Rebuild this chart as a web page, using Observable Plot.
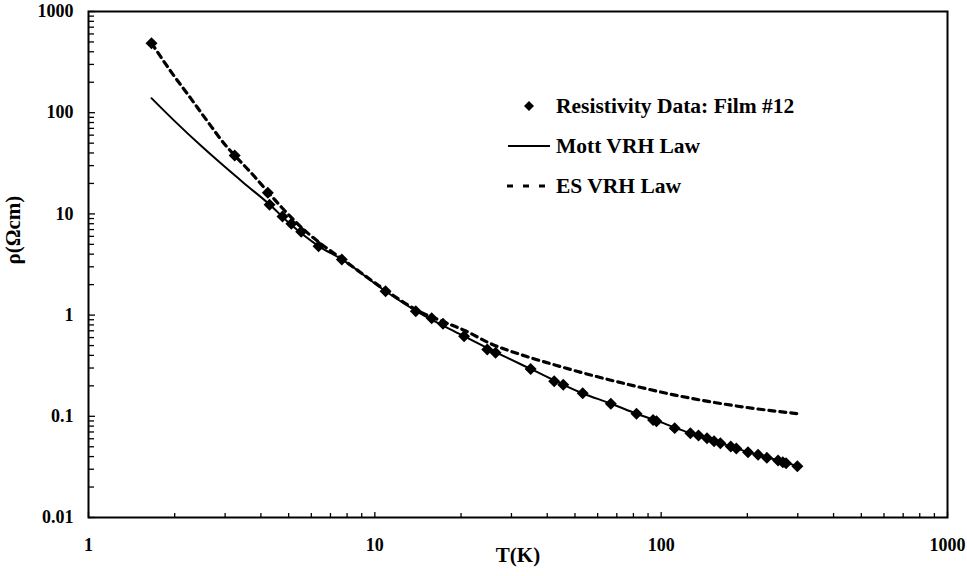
<!DOCTYPE html>
<html>
<head>
<meta charset="utf-8">
<script src="https://cdn.jsdelivr.net/npm/d3@7"></script>
<script src="https://cdn.jsdelivr.net/npm/@observablehq/plot@0.6"></script>
<style>
  html, body { margin: 0; padding: 0; background: #fff; }
  #chart svg { display: block; }
</style>
</head>
<body>
<div id="chart"></div>
<script>
// ---- Data ----
const tData   = [1.66, 3.24, 4.23, 4.29, 4.76, 5.11, 5.53, 6.36, 7.67, 10.9, 13.9, 15.8, 17.3, 20.5, 24.7, 26.4, 35.0, 42.3, 45.5, 53.2, 66.7, 82.0, 93.7, 96.3, 111.5, 126.5, 135, 144.6, 153, 161, 175, 183, 201, 218, 234, 256, 266, 273, 299];
const rhoData = [486, 37.8, 16.2, 12.3, 9.43, 7.98, 6.65, 4.80, 3.54, 1.72, 1.09, 0.933, 0.82, 0.619, 0.457, 0.424, 0.294, 0.222, 0.205, 0.169, 0.133, 0.106, 0.092, 0.0895, 0.0764, 0.068, 0.0646, 0.0608, 0.0568, 0.0542, 0.0503, 0.0481, 0.0442, 0.0416, 0.0389, 0.0366, 0.0352, 0.0344, 0.0321];

const tMott   = [1.66, 2.0, 2.5, 3.0, 3.5, 4.3, 5.0, 6.36, 7.67, 10.9, 14, 20, 26.4, 35, 53, 67, 82, 100, 126, 153, 200, 256, 300];
const rhoMott = [139, 82.5, 45.7, 29, 20, 12.3, 8.2, 4.8, 3.55, 1.72, 1.09, 0.64, 0.43, 0.294, 0.169, 0.133, 0.106, 0.087, 0.068, 0.057, 0.0445, 0.0366, 0.0322];

const tES   = [1.66, 1.96, 2.27, 2.58, 3.05, 3.24, 3.72, 4.23, 4.74, 5.5, 6.4, 7.67, 10.9, 14, 18.3, 20.6, 25.2, 33.9, 43.1, 59.5, 79.8, 113, 178, 300];
const rhoES = [486, 245, 140, 85, 45.6, 37.8, 25, 16.5, 11.5, 7.5, 5.2, 3.6, 1.76, 1.12, 0.81, 0.705, 0.527, 0.39, 0.318, 0.247, 0.201, 0.161, 0.128, 0.106];

const xMajorTicks = [1, 10, 100, 1000];
const xTickLabels = ["1", "10", "100", "1000"];
const yMajorTicks = [0.01, 0.1, 1, 10, 100, 1000];
const yTickLabels = ["0.01", "0.1", "1", "10", "100", "1000"];
const minorMultipliers = [2, 3, 4, 5, 6, 7, 8, 9];

const legendLabels = ["Resistivity Data: Film #12", "Mott VRH Law", "ES VRH Law"];
const xTitle = "T(K)";
const yTitle = "ρ(Ωcm)";

// ---- Derived tables ----
const points = tData.map((t, i) => ({T: t, rho: rhoData[i]}));
const mott = tMott.map((t, i) => ({T: t, rho: rhoMott[i]}));
const es = tES.map((t, i) => ({T: t, rho: rhoES[i]}));
const xMinor = xMajorTicks.slice(0, -1).flatMap(d => minorMultipliers.map(m => d * m));
const yMinor = yMajorTicks.slice(0, -1).flatMap(d => minorMultipliers.map(m => +(d * m).toPrecision(3)));
const xLab = new Map(xMajorTicks.map((d, i) => [d, xTickLabels[i]]));
const yLab = new Map(yMajorTicks.map((d, i) => [d, yTickLabels[i]]));

const W = 967, H = 576;
const mL = 88, mR = 20, mT = 11, mB = 59;
const innerH = H - mT - mB, innerW = W - mL - mR;
const FONT = "'Liberation Serif', 'Times New Roman', serif";

const chart = Plot.plot({
  width: W,
  height: H,
  marginLeft: mL,
  marginRight: mR,
  marginTop: mT,
  marginBottom: mB,
  style: {fontFamily: FONT, background: "#fff", color: "#000"},
  x: {type: "log", domain: [1, 1000], axis: null},
  y: {type: "log", domain: [0.01, 1000], axis: null},
  marks: [
    // inward ticks on bottom axis
    Plot.ruleX(xMinor, {x: d => d, insetTop: innerH - 4, stroke: "#000", strokeWidth: 1.3}),
    Plot.ruleX(xMajorTicks, {x: d => d, insetTop: innerH - 5, stroke: "#000", strokeWidth: 1.3}),
    // inward ticks on left axis
    Plot.ruleY(yMinor, {y: d => d, insetRight: innerW - 6, stroke: "#000", strokeWidth: 1.3}),
    Plot.ruleY(yMajorTicks, {y: d => d, insetRight: innerW - 7, stroke: "#000", strokeWidth: 1.3}),
    // tick labels
    Plot.axisX(xMajorTicks, {tickSize: 0, tickPadding: 21, tickFormat: d => xLab.get(d), fontSize: 18, fontWeight: "bold", fontFamily: FONT, label: null}),
    Plot.axisY(yMajorTicks, {tickSize: 0, tickPadding: 15, tickFormat: d => yLab.get(d), fontSize: 18, fontWeight: "bold", fontFamily: FONT, label: null}),
    // axis titles
    Plot.text([xTitle], {text: d => d, frameAnchor: "bottom", dy: 44, fontSize: 21, fontWeight: "bold", fontFamily: FONT}),
    Plot.text([yTitle], {text: d => d, frameAnchor: "left", dx: -75, rotate: -90, fontSize: 21, fontWeight: "bold", fontFamily: FONT}),
    // curves
    Plot.line(es, {x: "T", y: "rho", curve: "monotone-x", stroke: "#000", strokeWidth: 3.2, strokeDasharray: "6,5"}),
    Plot.line(mott, {x: "T", y: "rho", curve: "monotone-x", stroke: "#000", strokeWidth: 2}),
    // data
    Plot.dot(points, {x: "T", y: "rho", symbol: "diamond2", r: 5.4, fill: "#000", stroke: "none"}),
    Plot.frame({stroke: "#000", strokeWidth: 2})
  ]
});

document.getElementById("chart").appendChild(chart);

// ---- Legend (in pixel space, inside the plot) ----
const svg = d3.select(chart);
const lg = svg.append("g")
  .attr("font-family", FONT).attr("font-weight", "bold").attr("font-size", 21.5)
  .attr("fill", "#000").attr("text-anchor", "start");
lg.append("path").attr("d", "M529,101L534,106L529,111L524,106Z").attr("fill", "#000");
lg.append("line").attr("x1", 508).attr("x2", 550).attr("y1", 146).attr("y2", 146).attr("stroke", "#000").attr("stroke-width", 2);
lg.append("line").attr("x1", 507).attr("x2", 547).attr("y1", 186).attr("y2", 186).attr("stroke", "#000").attr("stroke-width", 3).attr("stroke-dasharray", "6,10");
[113, 153, 193].forEach((yb, i) => {
  lg.append("text").attr("x", 556).attr("y", yb).attr("text-anchor", "start").text(legendLabels[i]);
});
</script>
</body>
</html>
